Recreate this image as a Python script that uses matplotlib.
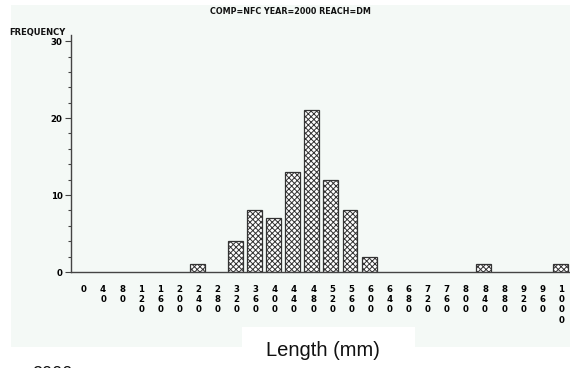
import matplotlib
matplotlib.use("Agg")
import matplotlib.pyplot as plt
from matplotlib.patches import Rectangle
from matplotlib.ticker import MultipleLocator

# Length-class midpoints (mm) and fish counts per class
lengths = list(range(0, 1001, 40))
counts = [0, 0, 0, 0, 0, 0, 1, 0, 4, 8, 7, 13, 21, 12, 8, 2,
          0, 0, 0, 0, 0, 1, 0, 0, 0, 1]
title = "COMP=NFC YEAR=2000 REACH=DM"
y_label = "FREQUENCY"
x_label = "Length (mm)"
footer = "2000"

W, H = 570, 368
plt.rcParams["hatch.linewidth"] = 0.7
plt.rcParams["hatch.color"] = "#1a1a1a"

fig = plt.figure(figsize=(W / 100, H / 100), dpi=100)
fig.patch.set_facecolor("white")

def px(x0, y0, w, h):
    return [x0 / W, 1 - (y0 + h) / H, w / W, h / H]

# pale graph panel and the white caption box over its lower edge
bg = "#F4F9F6"
fig.patches.append(Rectangle((11 / W, 1 - 347 / H), (W - 11) / W, (347 - 5) / H,
                             transform=fig.transFigure, facecolor=bg,
                             edgecolor="none", zorder=-2))
fig.patches.append(Rectangle((242 / W, 1 - 350 / H), (415 - 242) / W, (350 - 327) / H,
                             transform=fig.transFigure, facecolor="white",
                             edgecolor="none", zorder=-1))

ax = fig.add_axes(px(71, 35, W - 71, 272 - 35))
ax.set_facecolor("none")
ax.set_zorder(2)

idx = list(range(len(lengths)))
bx = [i for i, c in zip(idx, counts) if c > 0]
by = [c for c in counts if c > 0]
ax.bar([b - 0.07 for b in bx], by, width=0.78, color="white",
       edgecolor="#333333", linewidth=0.9, hatch="xxxxxx", zorder=2)

ax.set_xlim(-0.68, 25.45)
ax.set_ylim(0, 30.8)

for s in ("top", "right"):
    ax.spines[s].set_visible(False)
for s in ("left", "bottom"):
    ax.spines[s].set_color("#444444")
    ax.spines[s].set_linewidth(1.0)

ax.yaxis.set_major_locator(MultipleLocator(10))
ax.yaxis.set_minor_locator(MultipleLocator(2))
ax.tick_params(axis="y", which="major", length=4, width=0.8, color="#444444",
               labelsize=6.2, pad=2)
ax.tick_params(axis="y", which="minor", length=2, width=0.8, color="#444444")
for t in ax.get_yticklabels():
    t.set_fontweight("bold")

ax.set_xticks(idx)
ax.set_xticklabels(["\n".join(str(v)) for v in lengths], fontsize=6.2,
                   fontweight="bold", linespacing=1.2, va="top")
ax.tick_params(axis="x", length=0, pad=9)

fig.text(290 / W, 1 - 12 / H, title, ha="center", va="center",
         fontsize=5.8, fontweight="bold", color="#111111")
fig.text(65 / W, 1 - 32 / H, y_label, ha="right", va="center",
         fontsize=6, fontweight="bold", color="#111111")
fig.text(323 / W, 1 - 351 / H, x_label, ha="center", va="center",
         fontsize=14.5, family="Liberation Sans", color="#111111", zorder=3)
fig.text(32 / W, 1 - 366 / H, footer, ha="left", va="top",
         fontsize=13, family="Liberation Sans", color="#111111")

fig.savefig("out.png", dpi=100, facecolor="white")
